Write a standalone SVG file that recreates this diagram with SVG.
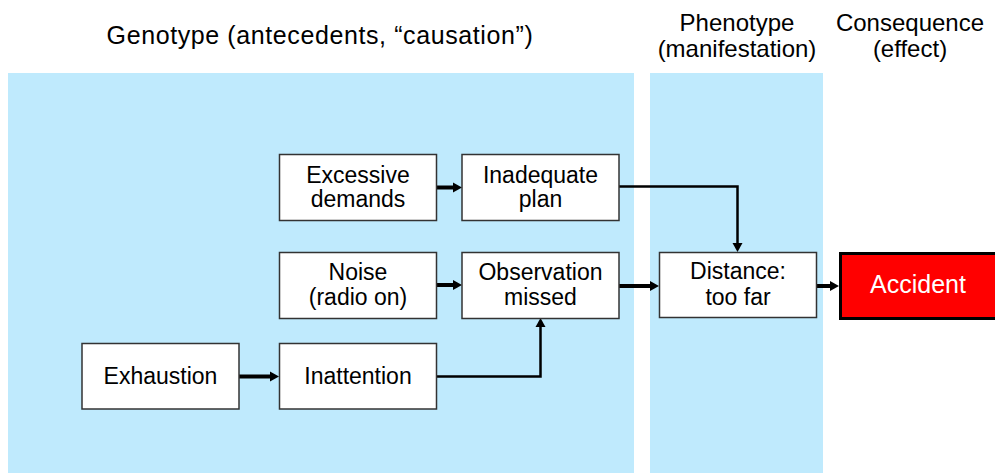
<svg xmlns="http://www.w3.org/2000/svg" width="995" height="473" viewBox="0 0 995 473">
<defs>
<style>
text{font-family:"Liberation Sans",Arial,sans-serif;font-size:23px;fill:#000;text-anchor:middle}
.hdr{font-size:24px}
.gen{font-size:25px;letter-spacing:0.6px}
.box{fill:#fff;stroke:#333;stroke-width:1.5}
.acc{fill:#ff0000;stroke:#000;stroke-width:3}
.panel{fill:#bfeafd}
.c{fill:none;stroke:#000;stroke-linejoin:miter}
.thick{stroke-width:4}
.thin{stroke-width:2.5}
</style>
</defs>
<rect width="995" height="473" fill="#fff"/>
<g id="panels">
<rect class="panel" x="8" y="73" width="626" height="400"/>
<rect class="panel" x="650" y="73" width="173" height="400"/>
</g>
<g id="headers">
<text class="gen" x="320" y="44">Genotype (antecedents, “causation”)</text>
<text class="hdr" x="737" y="31">Phenotype</text>
<text class="hdr" x="737" y="57">(manifestation)</text>
<text class="hdr" x="910" y="31">Consequence</text>
<text class="hdr" x="910" y="57">(effect)</text>
</g>
<g id="connectors">
<path class="c thick" d="M436,187.5 H455"/><path d="M453,182.5 L462,187.5 L453,192.5 z"/>
<path class="c thin" d="M619,186.5 H737.5 V244"/><path d="M732.5,243 L737.5,252 L742.5,243 z"/>
<path class="c thick" d="M436,285 H455"/><path d="M453,280 L462,285 L453,290 z"/>
<path class="c thick" d="M619,286 H652"/><path d="M650,281 L659,286 L650,291 z"/>
<path class="c thick" d="M817,286 H832"/><path d="M830,281 L839,286 L830,291 z"/>
<path class="c thick" d="M239,376.5 H272"/><path d="M270,371.5 L279,376.5 L270,381.5 z"/>
<path class="c thin" d="M437,376.5 H540.5 V326"/><path d="M535.5,327 L540.5,318 L545.5,327 z"/>
</g>
<g id="excessive-demands">
<rect class="box" x="279.5" y="154.5" width="157" height="66"/>
<text x="358" y="183">Excessive</text>
<text x="358" y="207">demands</text>
</g>
<g id="inadequate-plan">
<rect class="box" x="462" y="154.5" width="157" height="66"/>
<text x="540.5" y="183">Inadequate</text>
<text x="540.5" y="207">plan</text>
</g>
<g id="noise">
<rect class="box" x="279.5" y="252.5" width="157" height="66"/>
<text x="358" y="280">Noise</text>
<text x="358" y="305">(radio on)</text>
</g>
<g id="observation-missed">
<rect class="box" x="462" y="252.5" width="157" height="66"/>
<text x="540.5" y="280">Observation</text>
<text x="540.5" y="305">missed</text>
</g>
<g id="distance">
<rect class="box" x="659.5" y="252.5" width="157" height="65"/>
<text x="738" y="279">Distance:</text>
<text x="738" y="305">too far</text>
</g>
<g id="accident">
<rect class="acc" x="840.5" y="253.5" width="160" height="65"/>
<text x="918" y="293" style="fill:#fff;font-size:25px">Accident</text>
</g>
<g id="exhaustion">
<rect class="box" x="82" y="343.5" width="157" height="65.5"/>
<text x="160.5" y="384">Exhaustion</text>
</g>
<g id="inattention">
<rect class="box" x="279.5" y="343.5" width="157" height="65.5"/>
<text x="358" y="384">Inattention</text>
</g>
</svg>
